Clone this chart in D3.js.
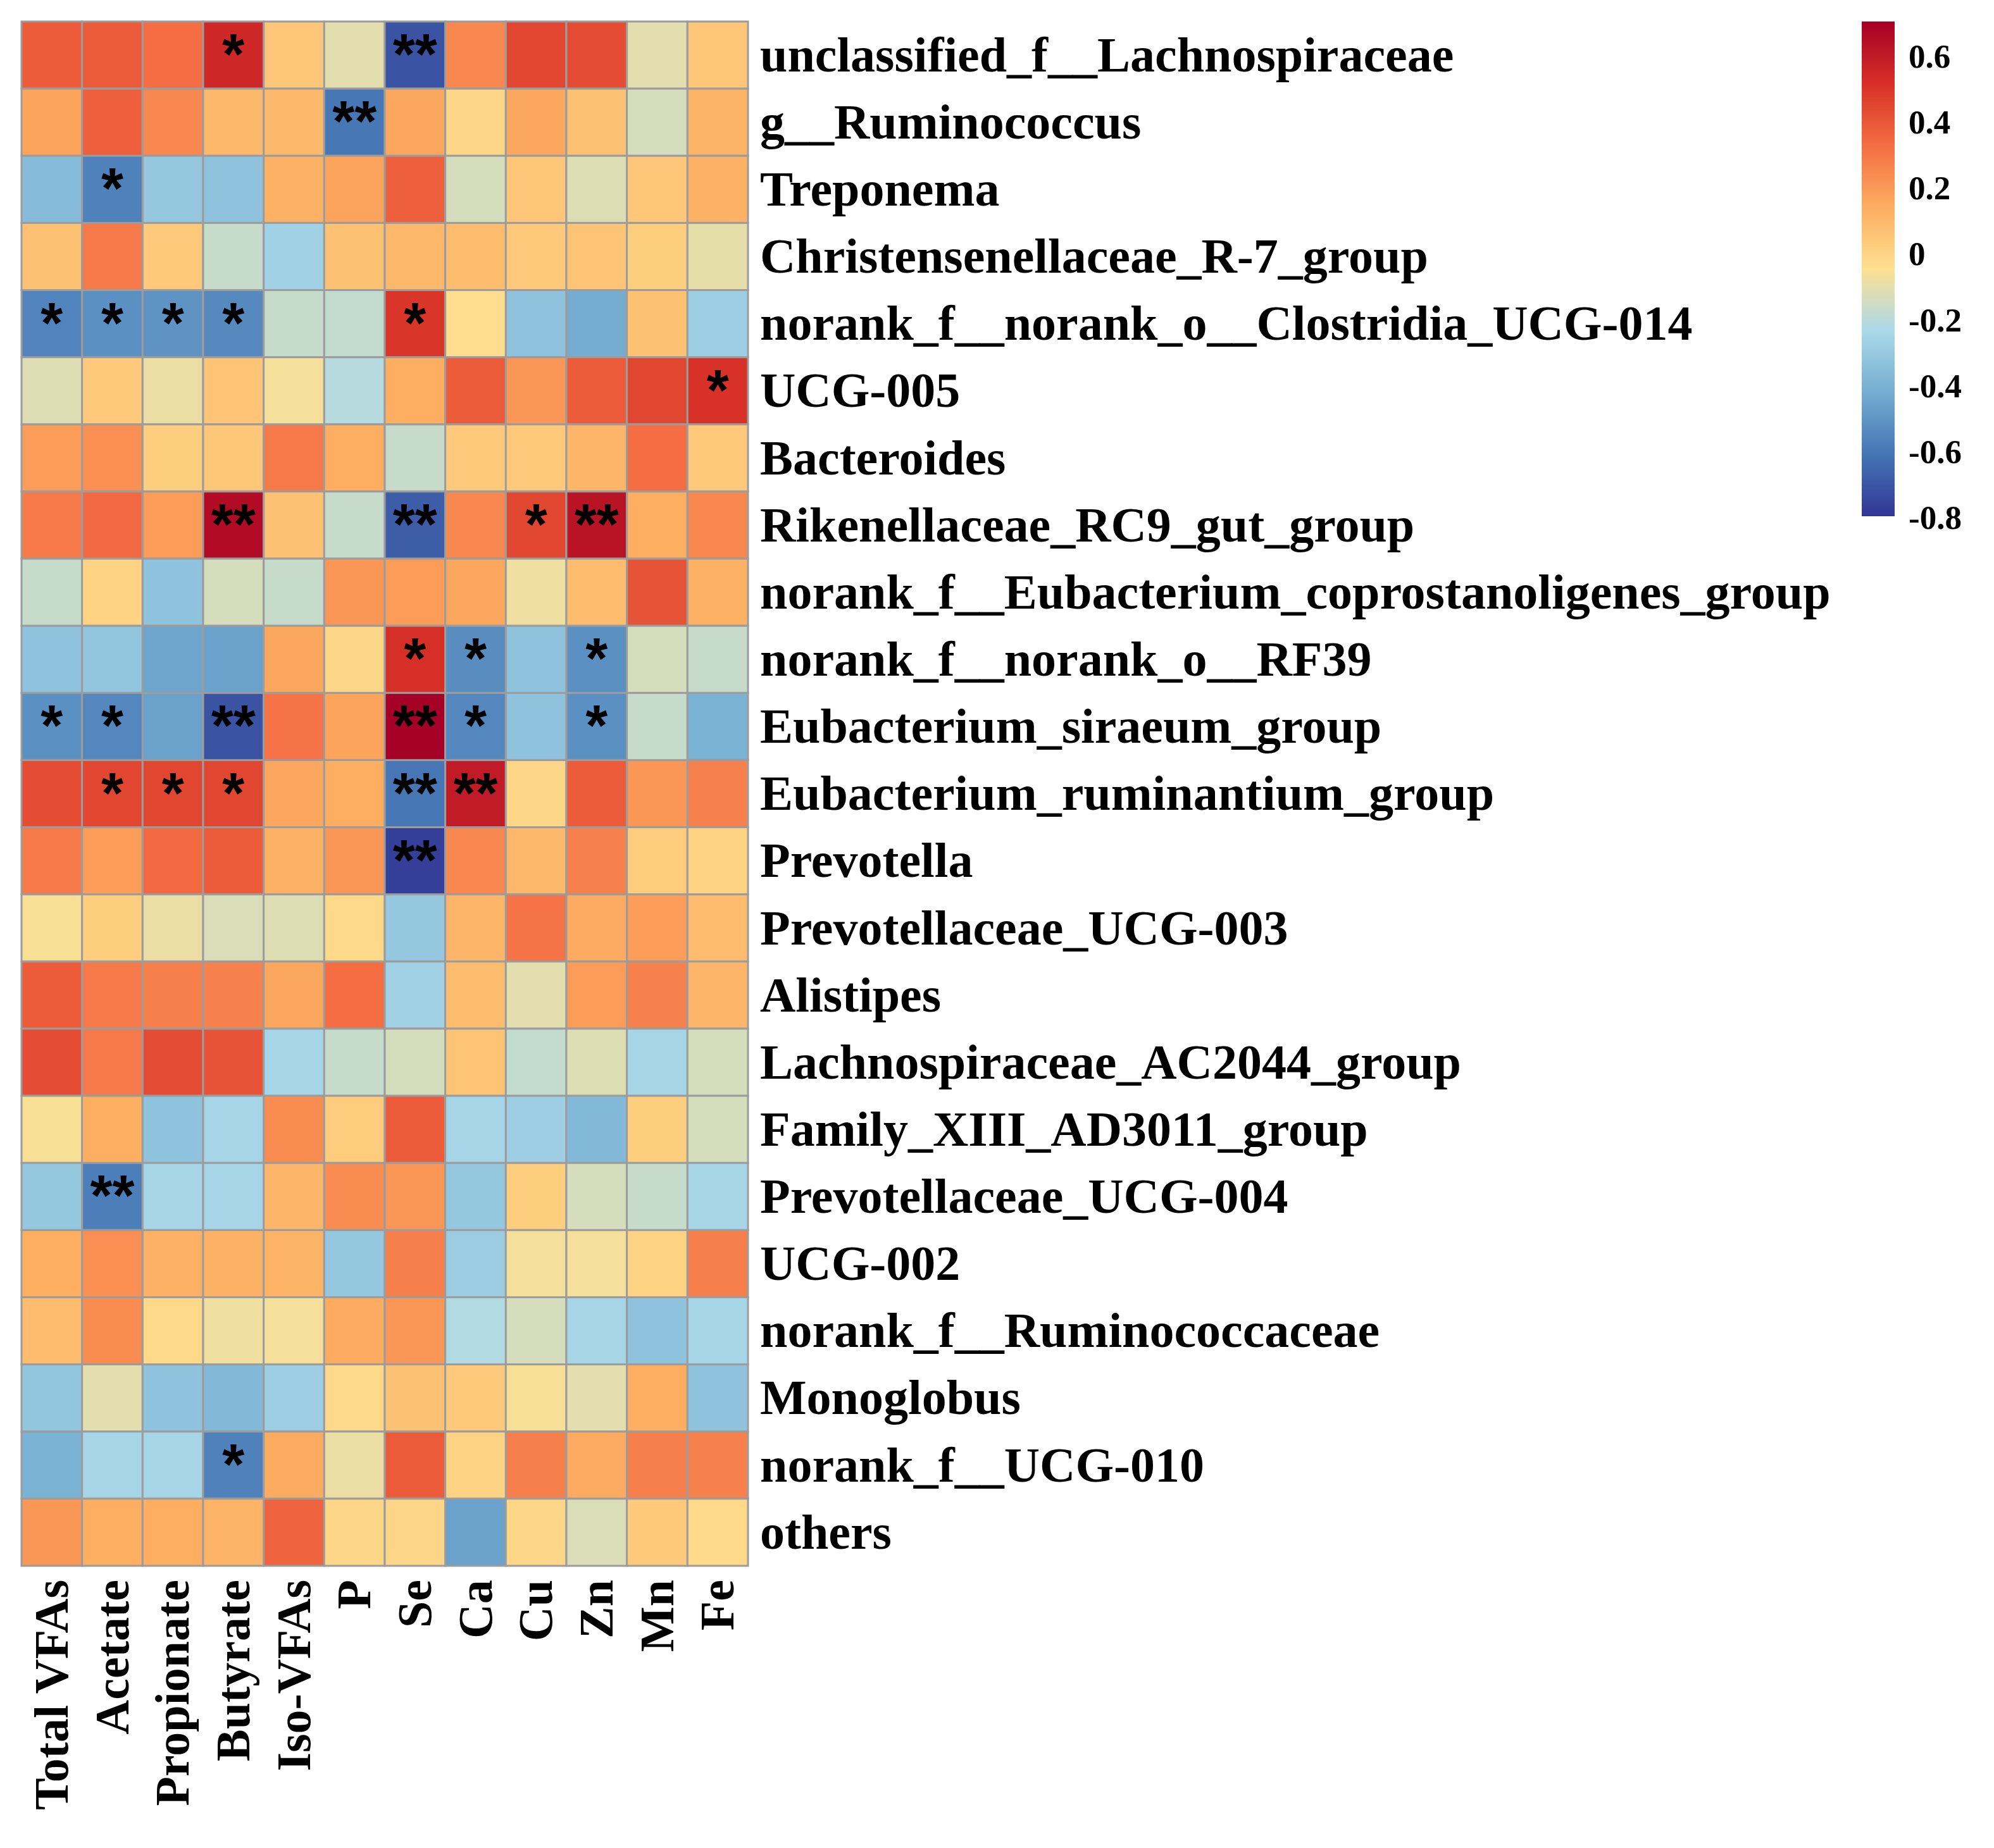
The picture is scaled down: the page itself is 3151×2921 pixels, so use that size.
<!DOCTYPE html>
<html>
<head>
<meta charset="utf-8">
<script src="https://cdn.jsdelivr.net/npm/d3@7"></script>
<style>
  body { margin: 0; background: #fff; }
  text { font-family: "Liberation Serif", "Times New Roman", serif; font-weight: bold; }
</style>
</head>
<body>
<svg id="chart" width="3151" height="2921"></svg>
<script>
// Rows (taxa) and columns (environmental variables)
const taxa = [
  "unclassified_f__Lachnospiraceae", "g__Ruminococcus", "Treponema",
  "Christensenellaceae_R-7_group", "norank_f__norank_o__Clostridia_UCG-014",
  "UCG-005", "Bacteroides", "Rikenellaceae_RC9_gut_group",
  "norank_f__Eubacterium_coprostanoligenes_group", "norank_f__norank_o__RF39",
  "Eubacterium_siraeum_group", "Eubacterium_ruminantium_group", "Prevotella",
  "Prevotellaceae_UCG-003", "Alistipes", "Lachnospiraceae_AC2044_group",
  "Family_XIII_AD3011_group", "Prevotellaceae_UCG-004", "UCG-002",
  "norank_f__Ruminococcaceae", "Monoglobus", "norank_f__UCG-010", "others"
];
const variables = ["Total VFAs", "Acetate", "Propionate", "Butyrate", "Iso-VFAs",
  "P", "Se", "Ca", "Cu", "Zn", "Mn", "Fe"];

// correlation coefficients, one row per taxon
const corr = [
  [ 0.38,  0.38,  0.33,  0.55,  0.05, -0.11, -0.71,  0.25,  0.45,  0.43, -0.11,  0.05],
  [ 0.17,  0.37,  0.25,  0.10,  0.10, -0.60,  0.16, -0.01,  0.16,  0.07, -0.14,  0.12],
  [-0.36, -0.57, -0.31, -0.33,  0.13,  0.17,  0.37, -0.14,  0.05, -0.12,  0.05,  0.13],
  [ 0.07,  0.29,  0.04, -0.17, -0.27,  0.07,  0.10,  0.09,  0.04,  0.06,  0.02, -0.10],
  [-0.56, -0.52, -0.51, -0.54, -0.17, -0.18,  0.50, -0.04, -0.33, -0.42,  0.07, -0.28],
  [-0.12,  0.04, -0.09,  0.06, -0.07, -0.21,  0.14,  0.38,  0.21,  0.38,  0.45,  0.51],
  [ 0.19,  0.23,  0.02,  0.05,  0.29,  0.14, -0.17,  0.04,  0.04,  0.11,  0.33,  0.04],
  [ 0.29,  0.34,  0.19,  0.66,  0.07, -0.17, -0.68,  0.25,  0.45,  0.63,  0.14,  0.25],
  [-0.17,  0.00, -0.33, -0.14, -0.17,  0.21,  0.19,  0.16, -0.08,  0.09,  0.41,  0.13],
  [-0.33, -0.32, -0.45, -0.46,  0.16, -0.01,  0.52, -0.53, -0.33, -0.52, -0.14, -0.17],
  [-0.52, -0.55, -0.46, -0.71,  0.31,  0.17,  0.70, -0.55, -0.33, -0.52, -0.17, -0.40],
  [ 0.43,  0.45,  0.45,  0.45,  0.16,  0.14, -0.60,  0.60, -0.01,  0.38,  0.21,  0.27],
  [ 0.29,  0.19,  0.34,  0.38,  0.13,  0.21, -0.77,  0.25,  0.10,  0.27,  0.03,  0.00],
  [-0.06,  0.02, -0.09, -0.13, -0.12, -0.02, -0.31,  0.11,  0.31,  0.15,  0.19,  0.09],
  [ 0.38,  0.29,  0.28,  0.27,  0.16,  0.33, -0.27,  0.09, -0.11,  0.19,  0.27,  0.11],
  [ 0.43,  0.29,  0.43,  0.41, -0.25, -0.17, -0.14,  0.06, -0.18, -0.12, -0.25, -0.14],
  [-0.06,  0.14, -0.33, -0.25,  0.24,  0.03,  0.38, -0.25, -0.28, -0.37,  0.02, -0.14],
  [-0.31, -0.58, -0.25, -0.25,  0.11,  0.24,  0.21, -0.31,  0.02, -0.14, -0.17, -0.25],
  [ 0.14,  0.23,  0.13,  0.13,  0.12, -0.31,  0.28, -0.29, -0.07, -0.07,  0.00,  0.28],
  [ 0.09,  0.24, -0.02, -0.08, -0.07,  0.15,  0.21, -0.22, -0.14, -0.25, -0.33, -0.25],
  [-0.32, -0.11, -0.33, -0.37, -0.28, -0.02,  0.07,  0.04, -0.06, -0.11,  0.14, -0.33],
  [-0.40, -0.25, -0.25, -0.57,  0.15, -0.09,  0.38,  0.00,  0.28,  0.15,  0.28,  0.27],
  [ 0.21,  0.14,  0.14,  0.12,  0.36, -0.01, -0.01, -0.46, -0.01, -0.13,  0.04, -0.02]
];

// significance marks, same layout as corr
const sig = [
  ["", "", "", "*", "", "", "**", "", "", "", "", ""],
  ["", "", "", "", "", "**", "", "", "", "", "", ""],
  ["", "*", "", "", "", "", "", "", "", "", "", ""],
  ["", "", "", "", "", "", "", "", "", "", "", ""],
  ["*", "*", "*", "*", "", "", "*", "", "", "", "", ""],
  ["", "", "", "", "", "", "", "", "", "", "", "*"],
  ["", "", "", "", "", "", "", "", "", "", "", ""],
  ["", "", "", "**", "", "", "**", "", "*", "**", "", ""],
  ["", "", "", "", "", "", "", "", "", "", "", ""],
  ["", "", "", "", "", "", "*", "*", "", "*", "", ""],
  ["*", "*", "", "**", "", "", "**", "*", "", "*", "", ""],
  ["", "*", "*", "*", "", "", "**", "**", "", "", "", ""],
  ["", "", "", "", "", "", "**", "", "", "", "", ""],
  ["", "", "", "", "", "", "", "", "", "", "", ""],
  ["", "", "", "", "", "", "", "", "", "", "", ""],
  ["", "", "", "", "", "", "", "", "", "", "", ""],
  ["", "", "", "", "", "", "", "", "", "", "", ""],
  ["", "**", "", "", "", "", "", "", "", "", "", ""],
  ["", "", "", "", "", "", "", "", "", "", "", ""],
  ["", "", "", "", "", "", "", "", "", "", "", ""],
  ["", "", "", "", "", "", "", "", "", "", "", ""],
  ["", "", "", "*", "", "", "", "", "", "", "", ""],
  ["", "", "", "", "", "", "", "", "", "", "", ""]
];

// legend
const legendTicks = [0.6, 0.4, 0.2, 0, -0.2, -0.4, -0.6, -0.8];
const legendRange = [-0.797, 0.704];
const palette = ["#313695", "#4575B4", "#74ADD1", "#ABD9E9", "#FEE090",
  "#FDAE61", "#F46D43", "#D73027", "#A50026"];

const svg = d3.select("#chart");

const x = d3.scaleBand().domain(variables).range([34, 1182]);
const y = d3.scaleBand().domain(taxa).range([34, 2475]);

const color = d3.scaleLinear()
  .domain(d3.range(palette.length).map(i => legendRange[0] + i * (legendRange[1] - legendRange[0]) / (palette.length - 1)))
  .range(palette)
  .interpolate(d3.interpolateRgb)
  .clamp(true);

// flatten into cells
const cells = [];
taxa.forEach((t, i) => {
  variables.forEach((v, j) => {
    cells.push({ taxon: t, variable: v, value: corr[i][j], mark: sig[i][j] });
  });
});

// heatmap cells
svg.append("g")
  .selectAll("rect")
  .data(cells)
  .join("rect")
    .attr("x", d => x(d.variable))
    .attr("y", d => y(d.taxon))
    .attr("width", x.bandwidth())
    .attr("height", y.bandwidth())
    .attr("fill", d => color(d.value))
    .attr("stroke", "#9c9c9c")
    .attr("stroke-width", 3);

// asterisks
svg.append("g")
  .selectAll("text")
  .data(cells.filter(d => d.mark))
  .join("text")
    .attr("x", d => x(d.variable) + x.bandwidth() / 2)
    .attr("y", d => y(d.taxon) + y.bandwidth() / 2 + 30)
    .attr("text-anchor", "middle")
    .style("font-family", "'Liberation Sans', Arial, sans-serif")
    .style("font-weight", "bold")
    .style("font-size", "90px")
    .attr("fill", "#000")
    .text(d => d.mark);

// row labels
svg.append("g")
  .selectAll("text")
  .data(taxa)
  .join("text")
    .attr("x", 1201)
    .attr("y", d => y(d) + y.bandwidth() / 2)
    .attr("dy", "0.33em")
    .style("font-size", "78px")
    .text(d => d);

// column labels
svg.append("g")
  .selectAll("text")
  .data(variables)
  .join("text")
    .attr("transform", d => `translate(${x(d) + x.bandwidth() / 2},2497) rotate(-90)`)
    .attr("text-anchor", "end")
    .attr("dy", "0.33em")
    .style("font-size", "76px")
    .text(d => d);

// colour legend
const ly = d3.scaleLinear().domain([legendRange[1], legendRange[0]]).range([34, 816]);
const defs = svg.append("defs");
const grad = defs.append("linearGradient")
  .attr("id", "legendGrad")
  .attr("x1", 0).attr("y1", 1).attr("x2", 0).attr("y2", 0);
grad.selectAll("stop")
  .data(palette)
  .join("stop")
    .attr("offset", (d, i) => i / (palette.length - 1))
    .attr("stop-color", d => d);

svg.append("rect")
  .attr("x", 2942)
  .attr("y", ly(legendRange[1]))
  .attr("width", 52)
  .attr("height", ly(legendRange[0]) - ly(legendRange[1]))
  .attr("fill", "url(#legendGrad)");

svg.append("g")
  .selectAll("text")
  .data(legendTicks)
  .join("text")
    .attr("x", 3016)
    .attr("y", d => ly(d))
    .attr("dy", "0.35em")
    .style("font-size", "53px")
    .text(d => d === 0 ? "0" : d.toFixed(1));
</script>
</body>
</html>
